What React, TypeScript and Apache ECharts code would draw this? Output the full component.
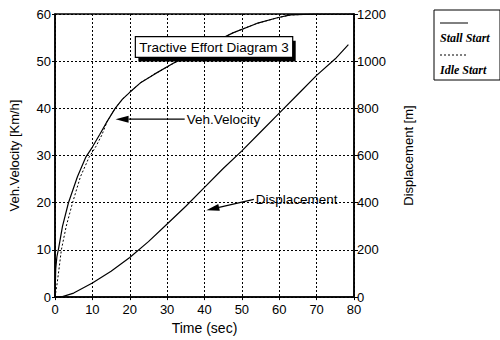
import React, { useEffect, useRef } from "react";
import * as echarts from "echarts";

// Stall Start (solid) velocity curve: time [s], velocity [km/h]
const stallTime = [0, 0.2, 0.5, 1, 2, 3.6, 6, 8.2, 10, 12, 14, 16.1, 18, 20, 23, 26.5, 32, 40, 47.6, 54, 59.5, 63, 70, 80];
const stallVelocity = [0, 6, 8.5, 10.5, 15, 20, 25.5, 29.6, 31.8, 34.5, 37.3, 40, 41.9, 43.4, 45.5, 47.2, 49.7, 53, 56, 58, 59.2, 59.8, 60, 60];

// Idle Start (dotted) velocity curve
const idleTime = [0, 0.5, 1, 1.7, 3, 4.7, 6.8, 9.1, 11, 12.5, 14, 16.1, 18, 20, 23, 26.5, 32, 40, 47.6, 54, 59.5, 63, 70, 80];
const idleVelocity = [0, 2.5, 5.5, 10, 15, 20, 25.5, 29.6, 32, 34.3, 37.3, 40, 41.9, 43.4, 45.5, 47.2, 49.7, 53, 56, 58, 59.2, 59.8, 60, 60];

// Displacement curve: time [s], displacement [m]
const dispTime = [0, 2, 5, 10, 15, 20, 25, 30, 35, 40, 45, 50, 55, 60, 65, 70, 75, 78.5];
const dispValue = [0, 2, 17, 60, 110, 168, 235, 310, 385, 465, 545, 620, 700, 780, 860, 940, 1010, 1070];

const titleText = "Tractive Effort Diagram 3";
const velocityLabel = "Veh.Velocity";
const displacementLabel = "Displacement";
const legendNames = ["Stall Start", "Idle Start"];

// annotation anchors in data coordinates
const velArrowFrom = [34.7, 37.7];
const velArrowTo = [16.2, 37.7];
const dispArrowFrom = [53.2, 414];
const dispArrowTo = [40.5, 368];
const titleBoxTL = [21.5, 55.2];
const titleBoxBR = [63.6, 50.8];

const pair = (xs: number[], ys: number[]) => xs.map((x, i) => [x, ys[i]]);

function arrow(from: number[], to: number[], headLen = 13, headW = 3.5) {
  const dx = to[0] - from[0];
  const dy = to[1] - from[1];
  const L = Math.hypot(dx, dy);
  const ux = dx / L, uy = dy / L;
  const px = -uy, py = ux;
  const bx = to[0] - ux * headLen, by = to[1] - uy * headLen;
  return [
    { type: "line", shape: { x1: from[0], y1: from[1], x2: bx, y2: by }, style: { stroke: "#000", lineWidth: 1.3 }, z: 100 },
    {
      type: "polygon",
      shape: { points: [[to[0], to[1]], [bx + px * headW, by + py * headW], [bx - px * headW, by - py * headW]] },
      style: { fill: "#000" },
      z: 100,
    },
  ];
}

export default function App() {
  const ref = useRef<HTMLDivElement>(null);
  useEffect(() => {
    document.body.style.margin = "0";
    const chart = echarts.init(ref.current!, null, { renderer: "svg" });
    const font = "Liberation Sans, Arial, sans-serif";
    const axisLabel = { color: "#000", fontSize: 13, fontFamily: font };
    const nameStyle = { color: "#000", fontSize: 13, fontFamily: font };
    const dotted = { show: true, lineStyle: { color: "#000", type: [2, 2] as any, width: 1 } };
    chart.setOption({
      animation: false,
      backgroundColor: "#fff",
      grid: { left: 52, right: 146, top: 14, bottom: 38, show: true, borderColor: "#000", borderWidth: 1.5 },
      xAxis: {
        type: "value",
        min: 0,
        max: 80,
        interval: 10,
        name: "Time (sec)",
        nameLocation: "middle",
        nameGap: 17,
        nameTextStyle: { ...nameStyle, fontSize: 14 },
        axisLine: { lineStyle: { color: "#000", width: 1.5 } },
        axisTick: { show: true, length: 3, lineStyle: { color: "#000" } },
        axisLabel: { ...axisLabel, margin: 6 },
        splitLine: dotted,
      },
      yAxis: [
        {
          type: "value",
          min: 0,
          max: 60,
          interval: 10,
          name: "Veh.Velocity [Km/h]",
          nameLocation: "middle",
          nameRotate: 90,
          nameGap: 34,
          nameTextStyle: nameStyle,
          axisLine: { show: true, lineStyle: { color: "#000", width: 1.5 } },
          axisTick: { show: true, length: 3, lineStyle: { color: "#000" } },
          axisLabel: { ...axisLabel, margin: 4 },
          splitLine: dotted,
        },
        {
          type: "value",
          min: 0,
          max: 1200,
          interval: 200,
          position: "right",
          name: "Displacement [m]",
          nameLocation: "middle",
          nameRotate: 90,
          nameGap: 48,
          nameTextStyle: nameStyle,
          axisLine: { show: true, lineStyle: { color: "#000", width: 1.5 } },
          axisTick: { show: true, length: 4, lineStyle: { color: "#000" } },
          axisLabel: { ...axisLabel, margin: 3, padding: [0, 0, 5, 0], formatter: (val: number) => String(val) },
          splitLine: { show: false },
        },
      ],
      series: [
        {
          name: legendNames[0],
          type: "line",
          data: pair(stallTime, stallVelocity),
          showSymbol: false,
          lineStyle: { color: "#000", width: 1.2 },
          z: 3,
        },
        {
          name: legendNames[1],
          type: "line",
          data: pair(idleTime, idleVelocity),
          showSymbol: false,
          lineStyle: { color: "#000", width: 1, type: [2, 2] },
          z: 2,
        },
        {
          name: "Displacement",
          type: "line",
          yAxisIndex: 1,
          data: pair(dispTime, dispValue),
          showSymbol: false,
          lineStyle: { color: "#000", width: 1.2 },
          z: 3,
        },
      ],
    });

    const v = (p: number[]) => chart.convertToPixel({ xAxisIndex: 0, yAxisIndex: 0 }, p) as number[];
    const d = (p: number[]) => chart.convertToPixel({ xAxisIndex: 0, yAxisIndex: 1 }, p) as number[];

    const vf = v(velArrowFrom), vt = v(velArrowTo);
    const df = d(dispArrowFrom), dt = d(dispArrowTo);
    const tl = v(titleBoxTL), br = v(titleBoxBR);
    const bw = br[0] - tl[0], bh = br[1] - tl[1];

    const legendX = 434, legendY = 10;
    const legendFont = `italic bold 12px Liberation Serif, serif`;
    chart.setOption({
      graphic: [
        // title box with shadow
        { type: "rect", shape: { x: tl[0] + 3, y: tl[1] + 4, width: bw, height: bh }, style: { fill: "#000" }, z: 100 },
        { type: "rect", shape: { x: tl[0], y: tl[1], width: bw, height: bh }, style: { fill: "#fff", stroke: "#000", lineWidth: 1.2 }, z: 101 },
        {
          type: "text",
          x: tl[0] + bw / 2,
          y: tl[1] + bh / 2,
          style: { text: titleText, fill: "#000", font: `13.5px ${font}`, align: "center", verticalAlign: "middle" },
          z: 102,
        },
        ...arrow(vf, vt),
        {
          type: "text",
          x: vf[0] + 2,
          y: vf[1],
          style: { text: velocityLabel, fill: "#000", font: `13.5px ${font}`, align: "left", verticalAlign: "middle", backgroundColor: "#fff" },
          z: 100,
        },
        ...arrow(df, dt, 13, 3.5),
        {
          type: "text",
          x: df[0] + 2,
          y: df[1],
          style: { text: displacementLabel, fill: "#000", font: `13.5px ${font}`, align: "left", verticalAlign: "middle" },
          z: 100,
        },
        // legend
        { type: "rect", shape: { x: legendX, y: legendY, width: 66, height: 70 }, style: { fill: "#fff", stroke: "#000", lineWidth: 1 }, z: 100 },
        { type: "line", shape: { x1: legendX + 6, y1: legendY + 13, x2: legendX + 34, y2: legendY + 13 }, style: { stroke: "#000", lineWidth: 1 }, z: 101 },
        {
          type: "text",
          x: legendX + 6,
          y: legendY + 28,
          style: { text: legendNames[0], fill: "#000", font: legendFont, verticalAlign: "middle" },
          z: 101,
        },
        { type: "line", shape: { x1: legendX + 6, y1: legendY + 45, x2: legendX + 34, y2: legendY + 45 }, style: { stroke: "#000", lineWidth: 1, lineDash: [2, 2] }, z: 101 },
        {
          type: "text",
          x: legendX + 6,
          y: legendY + 60,
          style: { text: legendNames[1], fill: "#000", font: legendFont, verticalAlign: "middle" },
          z: 101,
        },
      ],
    });
    return () => chart.dispose();
  }, []);
  return <div ref={ref} style={{ width: 500, height: 340 }} />;
}
